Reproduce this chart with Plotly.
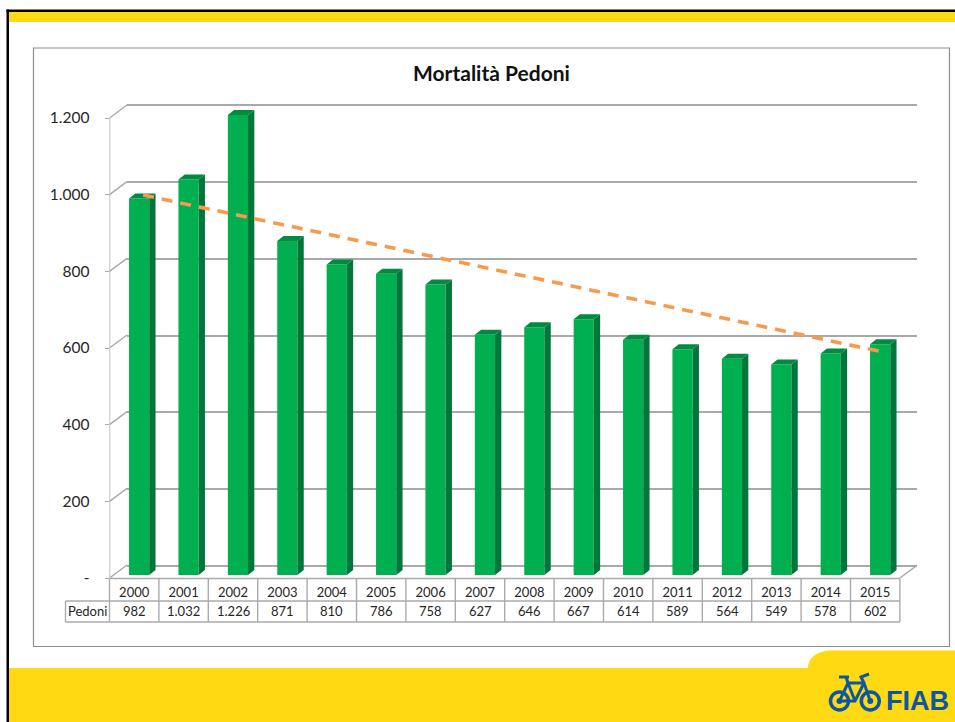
import plotly.graph_objects as go

W, H = 955, 722
YEARS = ["2000","2001","2002","2003","2004","2005","2006","2007","2008","2009","2010","2011","2012","2013","2014","2015"]
PEDONI = [982,1032,1226,871,810,786,758,627,646,667,614,589,564,549,578,602]
Y_TICKS = [0,200,400,600,800,1000,1200]
TREND_X = [0.18, 15.14]
TREND_Y = [999, 590]
AXIS_MAX = 1200

# page geometry (pixels)
PL, PR, PT, PB, PTOP = 109.5, 917.0, 118.0, 578.0, 100.0
CAT = 49.4
XMIN = -0.5
XMAX = XMIN + (PR - PL) / CAT
UNIT = (PB - PT) / AXIS_MAX       # px per value
YMAX = (PB - PTOP) / UNIT
BAR_W = 20.2 / CAT
BAR_SHIFT = 0.1
BAR_BASE = 3 / UNIT
DX, DY = 6.3 / CAT, 5 / UNIT
# back wall: value 0 at y=566, value 1200 at y=105, with a little room so the end gridlines draw
WALL_B, WALL_T = 566.0, 105.0
WALL_UNIT = (WALL_B - WALL_T) / AXIS_MAX
WALL_PAD = 4.0

def px(x): return x / W
def py(y): return 1 - y / H
def it_num(v): return f"{v:,}".replace(",", ".")

GREEN, SIDE, TOP = "#00B050", "#00763A", "#008A42"
GRID = "#A9A9A9"
TXT = "#262626"
YEL = "#FFD912"
BLUE = "#0B57A4"
FONT = "Lato, Carlito, 'Open Sans', sans-serif"

fig = go.Figure()

# back wall subplot: carries the gridlines
fig.add_trace(go.Scatter(x=[0, 1], y=[0, AXIS_MAX], mode="none", xaxis="x", yaxis="y",
                         hoverinfo="skip", showlegend=False))

n = len(PEDONI)
cx = [i + BAR_SHIFT for i in range(n)]
capped = [min(v, AXIS_MAX) for v in PEDONI]

fig.add_trace(go.Bar(x=cx, y=capped, base=BAR_BASE, width=BAR_W, marker=dict(color=GREEN, line=dict(width=0)),
                     xaxis="x2", yaxis="y2", cliponaxis=False, showlegend=False, name="Pedoni"))

sx, sy, tx, ty = [], [], [], []
for c, v in zip(cx, capped):
    l, r, top = c - BAR_W/2, c + BAR_W/2, v + BAR_BASE
    sx += [r, r + DX, r + DX, r, r, None]
    sy += [BAR_BASE, BAR_BASE + DY, top + DY, top, BAR_BASE, None]
    tx += [l, l + DX, r + DX, r, l, None]
    ty += [top, top + DY, top + DY, top, top, None]
for xs, ys, col in ((sx, sy, SIDE), (tx, ty, TOP)):
    fig.add_trace(go.Scatter(x=xs, y=ys, mode="lines", fill="toself", fillcolor=col, line=dict(width=0, color=col),
                             xaxis="x2", yaxis="y2", cliponaxis=False, hoverinfo="skip", showlegend=False))

# trend
fig.add_trace(go.Scatter(x=TREND_X, y=TREND_Y, mode="lines", line=dict(color="#F79A4E", width=3.6, dash="11px,8px"),
                         xaxis="x2", yaxis="y2", cliponaxis=False, hoverinfo="skip", showlegend=False))

# 3D frame lines: side wall / floor connectors and the vertical axis
WDX, WDY = 17.5 / CAT, 13 / UNIT
fx, fy = [XMIN, XMIN, None], [0, AXIS_MAX, None]
for t in Y_TICKS:
    fx += [XMIN, XMIN + WDX, None]; fy += [t, t + WDY, None]
fx += [XMIN + n, XMIN + n + WDX, None]; fy += [0, WDY, None]
fig.add_trace(go.Scatter(x=fx, y=fy, mode="lines", line=dict(color=GRID, width=1.4),
                         xaxis="x2", yaxis="y2", cliponaxis=False, hoverinfo="skip", showlegend=False))

def pshape(**k):
    d = dict(xref="paper", yref="paper", layer="below")
    d.update(k)
    return d

shapes = [
    pshape(type="rect", x0=px(9), x1=px(W), y0=py(22), y1=py(12), fillcolor=YEL, line=dict(width=0)),
    pshape(type="rect", x0=px(6.5), x1=px(W), y0=py(12), y1=py(9.5), fillcolor="#000", line=dict(width=0)),
    pshape(type="rect", x0=px(6.5), x1=px(9), y0=py(H), y1=py(9.5), fillcolor="#000", line=dict(width=0)),
    pshape(type="path", fillcolor=YEL, line=dict(width=0),
           path=f"M {px(9)} {py(668)} L {px(808)} {py(668)} C {px(808)} {py(658)} {px(817)} {py(650.5)} {px(832)} {py(650.5)} "
                f"L {px(W)} {py(650.5)} L {px(W)} {py(H)} L {px(9)} {py(H)} Z"),
    pshape(type="rect", x0=px(33.5), x1=px(949.5), y0=py(646.5), y1=py(48), line=dict(color="#8E8E8E", width=1.2)),
]

# data table (columns follow the category axis; the row-label cell lies left of it)
TL = "#ABABAB"
LBL_L = 65.5
def tline(x0, x1, y0, y1):
    return dict(type="line", xref="x2", yref="paper", x0=x0, x1=x1, y0=py(y0), y1=py(y1),
                line=dict(color=TL, width=1.4), layer="below")
def lblline(x0, x1, y0, y1):
    return pshape(type="line", x0=px(x0), x1=px(x1), y0=py(y0), y1=py(y1), line=dict(color=TL, width=1.4))
shapes.append(tline(XMIN, XMIN + n, 578.5, 578.5))
shapes.append(tline(XMIN, XMIN + n, 601, 601))
shapes.append(tline(XMIN, XMIN + n, 622, 622))
shapes.append(lblline(LBL_L, PL, 601, 601))
shapes.append(lblline(LBL_L, PL, 622, 622))
shapes.append(lblline(LBL_L, LBL_L, 601, 622))
shapes.append(lblline(PL, PL, 578.5, 622))
for k in range(1, n + 1):
    shapes.append(tline(XMIN + k, XMIN + k, 578.5, 622))

# logo
LC = 701
for c in (839.5, 870.3):
    r = 9
    shapes.append(pshape(type="circle", x0=px(c-r), x1=px(c+r), y0=py(LC+r), y1=py(LC-r), line=dict(color=BLUE, width=3.5), layer="above"))
    r = 3
    shapes.append(pshape(type="circle", x0=px(c-r), x1=px(c+r), y0=py(LC+r), y1=py(LC-r), fillcolor=BLUE, line=dict(width=0), layer="above"))
def path(pts):
    return "M " + " L ".join(f"{px(a)} {py(b)}" for a, b in pts)
for pts in ([(839.5,LC),(848,683),(864,683),(870.3,LC)], [(839.5,LC),(855,LC),(864,683)],
            [(848,683),(855,LC)], [(839,677),(849,677)], [(846,677),(848,683)],
            [(864,683),(861,677),(869,674)]):
    shapes.append(pshape(type="path", path=path(pts), line=dict(color=BLUE, width=3), layer="above"))

annotations = [
    dict(text="<b>Mortalità Pedoni</b>", x=px(491.5), y=py(72), xref="paper", yref="paper", showarrow=False,
         xanchor="center", yanchor="middle", font=dict(family=FONT, size=21, color="#111")),
    dict(text="<b>FIAB</b>", x=px(950.5), y=py(701), xref="paper", yref="paper", showarrow=False,
         xanchor="right", yanchor="middle", font=dict(family="'Liberation Sans', Arial, sans-serif", size=27, color=BLUE)),
    dict(text="Pedoni", x=px((LBL_L + PL) / 2), y=py(611), xref="paper", yref="paper", showarrow=False,
         xanchor="center", yanchor="middle", font=dict(family=FONT, size=13, color=TXT)),
]
for i, v in enumerate(PEDONI):
    annotations.append(dict(text=it_num(v), x=i, y=py(611), xref="x2", yref="paper", showarrow=False,
                            xanchor="center", yanchor="middle", font=dict(family=FONT, size=13, color=TXT)))

fig.update_layout(
    width=W, height=H, margin=dict(l=0, r=0, t=0, b=0, pad=0), autosize=False,
    paper_bgcolor="white", plot_bgcolor="rgba(0,0,0,0)", separators=",.",
    showlegend=False, barmode="overlay", shapes=shapes, annotations=annotations,
    # wall
    xaxis=dict(domain=[px(PL + 17.5), px(PR)], range=[0, 1], visible=False, fixedrange=True, automargin=False),
    yaxis=dict(domain=[py(WALL_B + WALL_PAD), py(WALL_T - WALL_PAD)],
               range=[-WALL_PAD / WALL_UNIT, AXIS_MAX + WALL_PAD / WALL_UNIT],
               tickvals=Y_TICKS, showticklabels=False, ticks="",
               showgrid=True, gridcolor=GRID, gridwidth=1.6, zeroline=False, showline=False, fixedrange=True, automargin=False),
    # chart
    xaxis2=dict(domain=[px(PL), px(PR)], range=[XMIN, XMAX], anchor="y2", showgrid=False, zeroline=False, showline=False,
                tickvals=list(range(n)), ticktext=YEARS, ticks="", ticklen=0, ticklabelstandoff=5,
                tickfont=dict(family=FONT, size=13, color=TXT), fixedrange=True, automargin=False),
    yaxis2=dict(domain=[py(PB), py(PTOP)], range=[0, YMAX], anchor="x2", showgrid=False, zeroline=False, showline=False,
                tickvals=Y_TICKS, ticktext=["-"] + [it_num(t) for t in Y_TICKS[1:]], ticks="outside", ticklen=4,
                tickcolor=GRID, tickwidth=1.3, ticklabelstandoff=12, automargin=False,
                tickfont=dict(family=FONT, size=15.5, color=TXT), fixedrange=True),
)
fig.write_html("out.html", post_script="document.body.style.margin='0';document.body.style.overflow='hidden';",
               config={"displayModeBar": False})
